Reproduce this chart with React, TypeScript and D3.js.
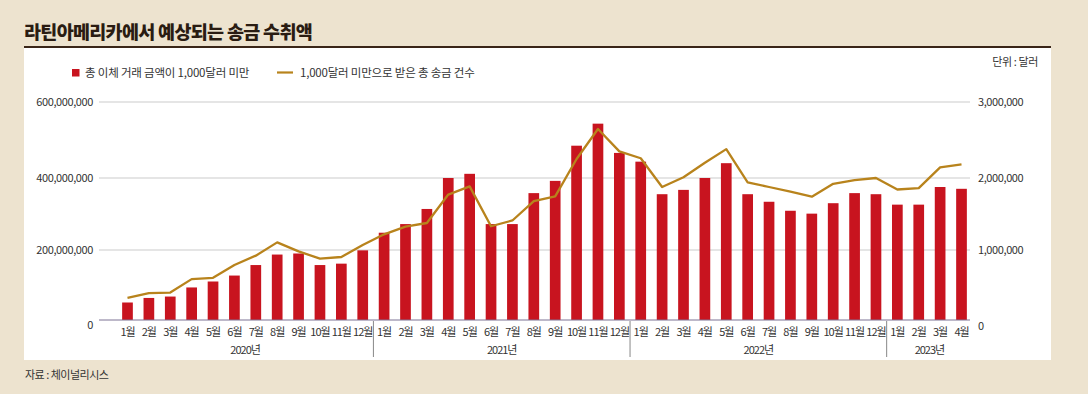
import React from "react";
import * as d3 from "d3";

const months: string[] = [
  "1월","2월","3월","4월","5월","6월","7월","8월","9월","10월","11월","12월",
  "1월","2월","3월","4월","5월","6월","7월","8월","9월","10월","11월","12월",
  "1월","2월","3월","4월","5월","6월","7월","8월","9월","10월","11월","12월",
  "1월","2월","3월","4월",
];
const years: { label: string; count: number }[] = [
  { label: "2020년", count: 12 },
  { label: "2021년", count: 12 },
  { label: "2022년", count: 12 },
  { label: "2023년", count: 4 },
];
// total transfer amount under $1,000 (left axis, dollars)
const amounts: number[] = [
  50e6, 63e6, 67e6, 93e6, 110e6, 127e6, 157e6, 187e6, 190e6, 157e6, 161e6, 199e6,
  248e6, 272e6, 314e6, 400e6, 411e6, 272e6, 272e6, 358e6, 392e6, 485e6, 543e6, 466e6,
  443e6, 355e6, 367e6, 400e6, 439e6, 355e6, 334e6, 309e6, 301e6, 330e6, 358e6, 355e6,
  326e6, 326e6, 375e6, 370e6,
];
// total number of remittances under $1,000 (right axis)
const counts: number[] = [
  316e3, 383e3, 392e3, 584e3, 603e3, 785e3, 919e3, 1106e3, 981e3, 876e3, 900e3, 1070e3,
  1218e3, 1324e3, 1375e3, 1770e3, 1884e3, 1330e3, 1410e3, 1680e3, 1745e3, 2250e3, 2645e3, 2350e3,
  2260e3, 1875e3, 2010e3, 2200e3, 2380e3, 1940e3, 1875e3, 1810e3, 1740e3, 1920e3, 1970e3, 2000e3,
  1840e3, 1860e3, 2140e3, 2180e3,
];
const leftTicks: number[] = [0, 200e6, 400e6, 600e6];
const rightTicks: number[] = [0, 1e6, 2e6, 3e6];

const title = "라틴아메리카에서 예상되는 송금 수취액";
const legendBar = "총 이체 거래 금액이 1,000달러 미만";
const legendLine = "1,000달러 미만으로 받은 총 송금 건수";
const unitText = "단위 : 달러";
const sourceText = "자료 : 체이널리시스";

const W = 1088;
const H = 394;
const FONT = "'Noto Sans CJK KR', 'Noto Sans', sans-serif";
const BG = "#ede3cf";
const BAR = "#c8141f";
const LINE = "#b8831c";

export default function App() {
  const idx = months.map((_, i) => i);
  const x = d3.scaleBand<number>().domain(idx).range([116.8, 972.2]).paddingInner(0.5).paddingOuter(0.25);
  const yL = d3.scaleLinear().domain(leftTicks).range([320, 250, 178, 102]);
  const yR = d3.scaleLinear().domain(rightTicks).range([320, 250, 178, 102]);
  const fmt = d3.format(",");
  const cx = (i: number) => (x(i) as number) + x.bandwidth() / 2;
  const line = d3.line<number>().x((_, i) => cx(i)).y((d) => yR(d));

  let start = 0;
  const groups = years.map((y) => {
    const g = { ...y, s: start, e: start + y.count - 1 };
    start += y.count;
    return g;
  });

  return (
    <svg width={W} height={H} style={{ position: "absolute", left: 0, top: 0, display: "block" }} fontFamily={FONT}>
      <rect x={0} y={0} width={W} height={H} fill={BG} />
      <text x={24} y={38.5} fontSize={18.5} fontWeight={900} fill="#2a1c12" letterSpacing={-0.7}>{title}</text>
      <rect x={24} y={48} width={1027} height={312} fill="#fff" />
      <line x1={24} x2={1051} y1={47} y2={47} stroke="#3a2618" strokeWidth={2.2} />

      {/* legend */}
      <rect x={72} y={69} width={7.5} height={7.5} fill={BAR} />
      <text x={85} y={77} fontSize={11.5} fill="#333" letterSpacing={-0.2}>{legendBar}</text>
      <line x1={277} x2={293} y1={72.5} y2={72.5} stroke={LINE} strokeWidth={2.2} />
      <text x={300} y={77} fontSize={11.5} fill="#333" letterSpacing={-0.2}>{legendLine}</text>
      <text x={1038} y={66} fontSize={11} fill="#333" textAnchor="end" letterSpacing={-0.4}>{unitText}</text>

      {/* gridlines */}
      {leftTicks.filter((t) => t > 0).map((t) => (
        <line key={t} x1={99} x2={970} y1={yL(t)} y2={yL(t)} stroke="#cbcbcb" strokeWidth={1} />
      ))}
      {leftTicks.map((t) => (
        <text key={"l" + t} x={93} y={yL(t) + (t === 0 ? 5 : 0)} dy="0.35em" fontSize={11} fill="#333" textAnchor="end" letterSpacing={-0.4}>{fmt(t)}</text>
      ))}
      {rightTicks.map((t) => (
        <text key={"r" + t} x={978} y={yR(t) + (t === 0 ? 6 : 0)} dy="0.35em" fontSize={11} fill="#333" letterSpacing={-0.4}>{fmt(t)}</text>
      ))}

      {/* bars */}
      {amounts.map((v, i) => (
        <rect key={i} x={x(i)} y={yL(v)} width={x.bandwidth()} height={yL(0) - yL(v)} fill={BAR} />
      ))}
      <line x1={99} x2={970} y1={yL(0)} y2={yL(0)} stroke="#7d7394" strokeWidth={1} />

      {/* line */}
      <path d={line(counts) || ""} fill="none" stroke={LINE} strokeWidth={2.3} strokeLinejoin="round" />

      {/* month labels */}
      {months.map((m, i) => (
        <text key={"m" + i} x={cx(i)} y={332} dy="0.35em" fontSize={11} fill="#333" textAnchor="middle" letterSpacing={-1}>{m}</text>
      ))}
      {groups.map((g, k) => {
        const mid = (cx(g.s) + cx(g.e)) / 2;
        const sep = k > 0 ? (cx(g.s - 1) + cx(g.s)) / 2 : null;
        return (
          <g key={g.label}>
            {sep !== null && <line x1={sep} x2={sep} y1={321} y2={357} stroke="#888" strokeWidth={1} />}
            <text x={mid} y={350} dy="0.35em" fontSize={11} fill="#333" textAnchor="middle" letterSpacing={-1}>{g.label}</text>
          </g>
        );
      })}

      <text x={25} y={375} dy="0.35em" fontSize={11} fill="#333" letterSpacing={-0.5}>{sourceText}</text>
    </svg>
  );
}
